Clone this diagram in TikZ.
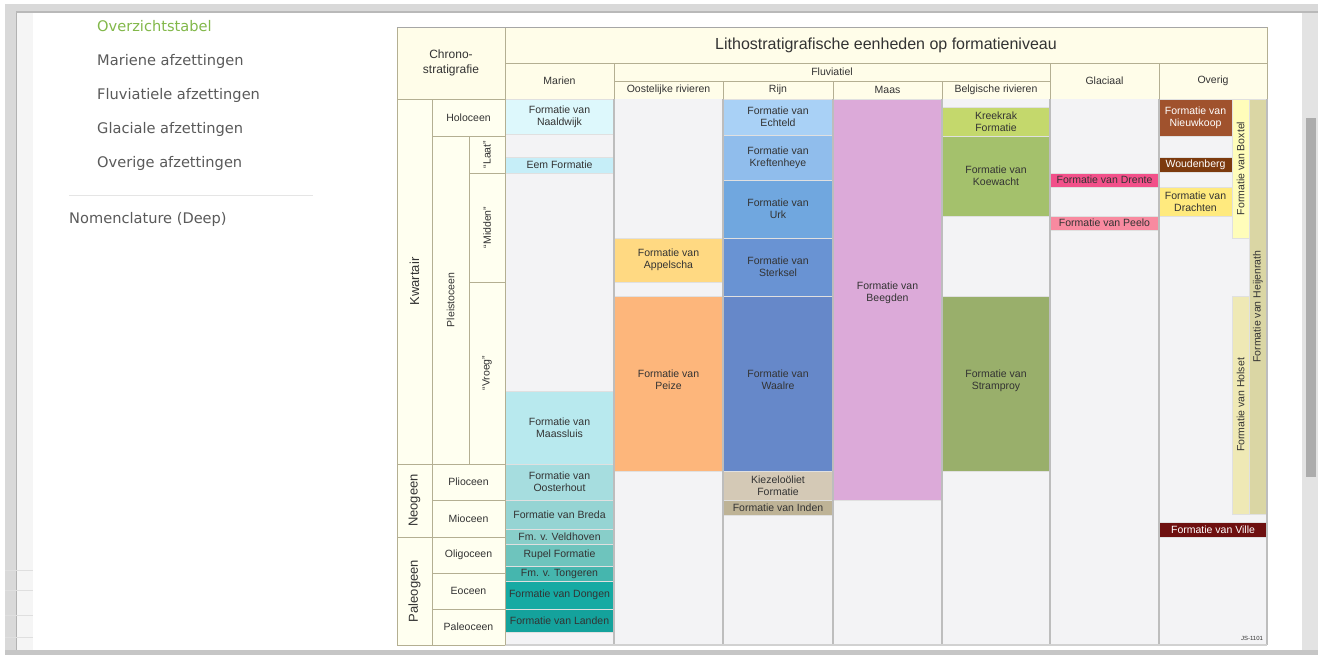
\documentclass[tikz,border=0pt]{standalone}
\usepackage{fontspec}
\setmainfont{Liberation Sans}
\newfontfamily\menufont{DejaVu Sans}
\usepackage{graphicx}
\definecolor{cream}{HTML}{FFFDE9}
\definecolor{creamb}{HTML}{FFFFF0}
\definecolor{tanline}{HTML}{B4AF92}
\definecolor{bodygray}{HTML}{F3F3F5}
\definecolor{sepgray}{HTML}{BDBDBD}
\definecolor{txt}{HTML}{333333}
\definecolor{menugreen}{HTML}{82B84A}
\definecolor{menugray}{HTML}{5A5A5A}
\newcommand\fs{\fontsize{10.5}{12}\selectfont}
\newcommand\cell[7]{\node[cellbase,minimum width={(#4-#2)*1pt},minimum height={(#5-#3)*1pt},#6] (#1) at ({(#2+#4)/2},{(#3+#5)/2}) {#7};}
\tikzset{
  cellbase/.style={inner sep=0pt, outer sep=0pt, align=center, font=\fs, text=txt, draw=black!12, line width=0.5pt},
  hdr/.style={fill=cream, draw=tanline, line width=0.9pt},
  chr/.style={fill=creamb, draw=tanline, line width=0.9pt},
  big/.style={font=\fontsize{13}{14}\selectfont},
  menuitem/.style={anchor=base west, inner sep=0pt, font=\menufont\fontsize{14.6}{16}\selectfont, text=menugray},
  wtxt/.style={text=white}
}
\begin{document}
\begin{tikzpicture}[x=1pt,y=-1pt]
\useasboundingbox (0,0) rectangle (1322,655);
\fill[white] (0,0) rectangle (1322,655);
% ---- window frame
\fill[gray!30] (5,4) rectangle (1318,13);
\fill[gray!55] (5,11) rectangle (1318,13);
\fill[gray!30] (5,4) rectangle (16,655);
\fill[gray!8] (16,13) rectangle (33,651);
\draw[gray!60, line width=0.8pt] (16,13) -- (16,651);
\draw[gray!25] (5,570) -- (33,570) (5,590) -- (33,590) (5,615) -- (33,615) (5,637) -- (33,637);
\fill[gray!45] (5,650) rectangle (1318,655);
\fill[gray!22] (1302,13) rectangle (1318,650);
\fill[gray!65] (1306,118) rectangle (1316,477);
% ---- menu
\node[menuitem, text=menugreen] (m1) at (97,32) {Overzichtstabel};
\node[menuitem] (m2) at (97,66) {Mariene afzettingen};
\node[menuitem] (m3) at (97,100) {Fluviatiele afzettingen};
\node[menuitem] (m4) at (97,134) {Glaciale afzettingen};
\node[menuitem] (m5) at (97,168) {Overige afzettingen};
\draw[gray!20, line width=0.8pt] (69,195) -- (313,195);
\node[menuitem] (m6) at (69,223) {Nomenclature (Deep)};
% ---- table header
\cell{hchrono}{397}{27}{505}{99}{hdr, font=\fontsize{12}{14.5}\selectfont}{Chrono-\\stratigrafie}
\cell{htitle}{505}{27}{1267}{63}{hdr, font=\fontsize{16}{18}\selectfont}{Lithostratigrafische eenheden op formatieniveau}
\cell{hmarien}{505}{63}{614}{99}{hdr}{Marien}
\cell{hfluv}{614}{63}{1050}{81}{hdr}{Fluviatiel}
\cell{hoost}{614}{81}{723}{99}{hdr}{Oostelijke rivieren}
\cell{hrijn}{723}{81}{833}{99}{hdr}{Rijn}
\cell{hmaas}{833}{81}{942}{99}{hdr}{Maas}
\cell{hbelg}{942}{81}{1050}{99}{hdr}{Belgische rivieren}
\cell{hglac}{1050}{63}{1159}{99}{hdr}{Glaciaal}
\cell{hoverig}{1159}{63}{1267}{99}{hdr}{Overig}
\draw[gray!70, line width=0.9pt] (397,27) -- (1267,27);
% ---- chronostratigraphy
\cell{kwartair}{397}{99}{432}{464}{chr, big}{\rotatebox{90}{Kwartair}}
\cell{neogeen}{397}{464}{432}{537}{chr, big}{\rotatebox{90}{Neogeen}}
\cell{paleogeen}{397}{537}{432}{645}{chr, big}{\rotatebox{90}{Paleogeen}}
\cell{holoceen}{432}{99}{505}{136}{chr}{Holoceen}
\cell{pleistoceen}{432}{136}{469}{464}{chr}{\rotatebox{90}{Pleistoceen}}
\cell{laat}{469}{136}{505}{173}{chr}{\rotatebox{90}{“Laat”}}
\cell{midden}{469}{173}{505}{282}{chr}{\rotatebox{90}{“Midden”}}
\cell{vroeg}{469}{282}{505}{464}{chr}{\rotatebox{90}{“Vroeg”}}
\cell{plioceen}{432}{464}{505}{500}{chr}{Plioceen}
\cell{mioceen}{432}{500}{505}{537}{chr}{Mioceen}
\cell{oligoceen}{432}{537}{505}{573}{chr}{Oligoceen}
\cell{eoceen}{432}{573}{505}{609}{chr}{Eoceen}
\cell{paleoceen}{432}{609}{505}{645}{chr}{Paleoceen}
% ---- body background
\fill[bodygray] (505,99) rectangle (1267,645);
% Marien
\cell{naaldwijk}{505}{99}{614}{134}{fill={rgb,255:red,221;green,248;blue,252}}{Formatie van\\Naaldwijk}
\cell{eem}{505}{157}{614}{173}{fill={rgb,255:red,198;green,238;blue,248}}{Eem Formatie}
\cell{maassluis}{505}{391}{614}{464}{fill={rgb,255:red,184;green,233;blue,238}}{Formatie van\\Maassluis}
\cell{oosterhout}{505}{464}{614}{500}{fill={rgb,255:red,166;green,221;blue,223}}{Formatie van\\Oosterhout}
\cell{breda}{505}{500}{614}{529}{fill={rgb,255:red,149;green,212;blue,211}}{Formatie van Breda}
\cell{veldhoven}{505}{529}{614}{544}{fill={rgb,255:red,136;green,206;blue,201}}{Fm. v. Veldhoven}
\cell{rupel}{505}{544}{614}{566}{fill={rgb,255:red,110;green,196;blue,189}}{Rupel Formatie}
\cell{tongeren}{505}{566}{614}{581}{fill={rgb,255:red,69;green,182;blue,174}}{Fm. v. Tongeren}
\cell{dongen}{505}{581}{614}{609}{fill={rgb,255:red,22;green,170;blue,163}}{Formatie van Dongen}
\cell{landen}{505}{609}{614}{632}{fill={rgb,255:red,20;green,162;blue,156}}{Formatie van Landen}
% Oostelijke rivieren
\cell{appelscha}{614}{238}{723}{282}{fill={rgb,255:red,255;green,217;blue,130}}{Formatie van\\Appelscha}
\cell{peize}{614}{296}{723}{471}{fill={rgb,255:red,253;green,182;blue,123}, text depth=8pt}{Formatie van\\Peize}
% Rijn
\cell{echteld}{723}{99}{833}{135}{fill={rgb,255:red,169;green,209;blue,246}}{Formatie van\\Echteld}
\cell{kreftenheye}{723}{135}{833}{180}{fill={rgb,255:red,144;green,189;blue,236}}{Formatie van\\Kreftenheye}
\cell{urk}{723}{180}{833}{238}{fill={rgb,255:red,112;green,167;blue,223}}{Formatie van\\Urk}
\cell{sterksel}{723}{238}{833}{296}{fill={rgb,255:red,105;green,147;blue,211}}{Formatie van\\Sterksel}
\cell{waalre}{723}{296}{833}{471}{fill={rgb,255:red,102;green,136;blue,201}, text depth=8pt}{Formatie van\\Waalre}
\cell{kiezeloliet}{723}{471}{833}{500}{fill={rgb,255:red,212;green,201;blue,182}}{Kiezeloöliet\\Formatie}
\cell{inden}{723}{500}{833}{515}{fill={rgb,255:red,190;green,179;blue,150}}{Formatie van Inden}
% Maas
\cell{beegden}{833}{99}{942}{500}{fill={rgb,255:red,220;green,170;blue,217}, text depth=15pt}{Formatie van\\Beegden}
% Belgische rivieren
\cell{kreekrak}{942}{107}{1050}{136}{fill={rgb,255:red,196;green,216;blue,108}}{Kreekrak\\Formatie}
\cell{koewacht}{942}{136}{1050}{216}{fill={rgb,255:red,164;green,193;blue,108}}{Formatie van\\Koewacht}
\cell{stramproy}{942}{296}{1050}{471}{fill={rgb,255:red,153;green,175;blue,107}, text depth=8pt}{Formatie van\\Stramproy}
% Glaciaal
\cell{drente}{1050}{173}{1159}{187}{fill={rgb,255:red,242;green,80;blue,138}}{Formatie van Drente}
\cell{peelo}{1050}{216}{1159}{230}{fill={rgb,255:red,248;green,138;blue,160}}{Formatie van Peelo}
% Overig
\cell{nieuwkoop}{1159}{99}{1232}{136}{fill={rgb,255:red,160;green,82;blue,45}, wtxt}{Formatie van\\Nieuwkoop}
\cell{woudenberg}{1159}{157}{1232}{172}{fill={rgb,255:red,124;green,58;blue,14}, wtxt}{Woudenberg}
\cell{drachten}{1159}{187}{1232}{216}{fill={rgb,255:red,255;green,234;blue,126}}{Formatie van\\Drachten}
\cell{boxtel}{1232}{99}{1249}{238}{fill={rgb,255:red,255;green,253;blue,186}}{\rotatebox{90}{Formatie van Boxtel}}
\cell{holset}{1232}{296}{1249}{514}{fill={rgb,255:red,239;green,233;blue,181}}{\rotatebox{90}{Formatie van Holset}}
\cell{heijenrath}{1249}{99}{1267}{514}{fill={rgb,255:red,218;green,214;blue,164}}{\rotatebox{90}{Formatie van Heijenrath}}
\cell{ville}{1159}{522}{1267}{537}{fill={rgb,255:red,110;green,16;blue,16}, wtxt}{Formatie van Ville}
\node[inner sep=0pt, font=\fontsize{6}{7}\selectfont, text=txt] (js) at (1252,638) {JS-1101};
% ---- column separators
\draw[sepgray, line width=1.4pt] (614,99) -- (614,645) (723,99) -- (723,645) (833,99) -- (833,645)
  (942,99) -- (942,645) (1050,99) -- (1050,645) (1159,99) -- (1159,645) (1267,99) -- (1267,645);
\draw[sepgray!70, line width=1.2pt] (505,645) -- (1267,645);
\draw[tanline, line width=0.9pt] (505,99) -- (505,645);
\end{tikzpicture}
\end{document}
